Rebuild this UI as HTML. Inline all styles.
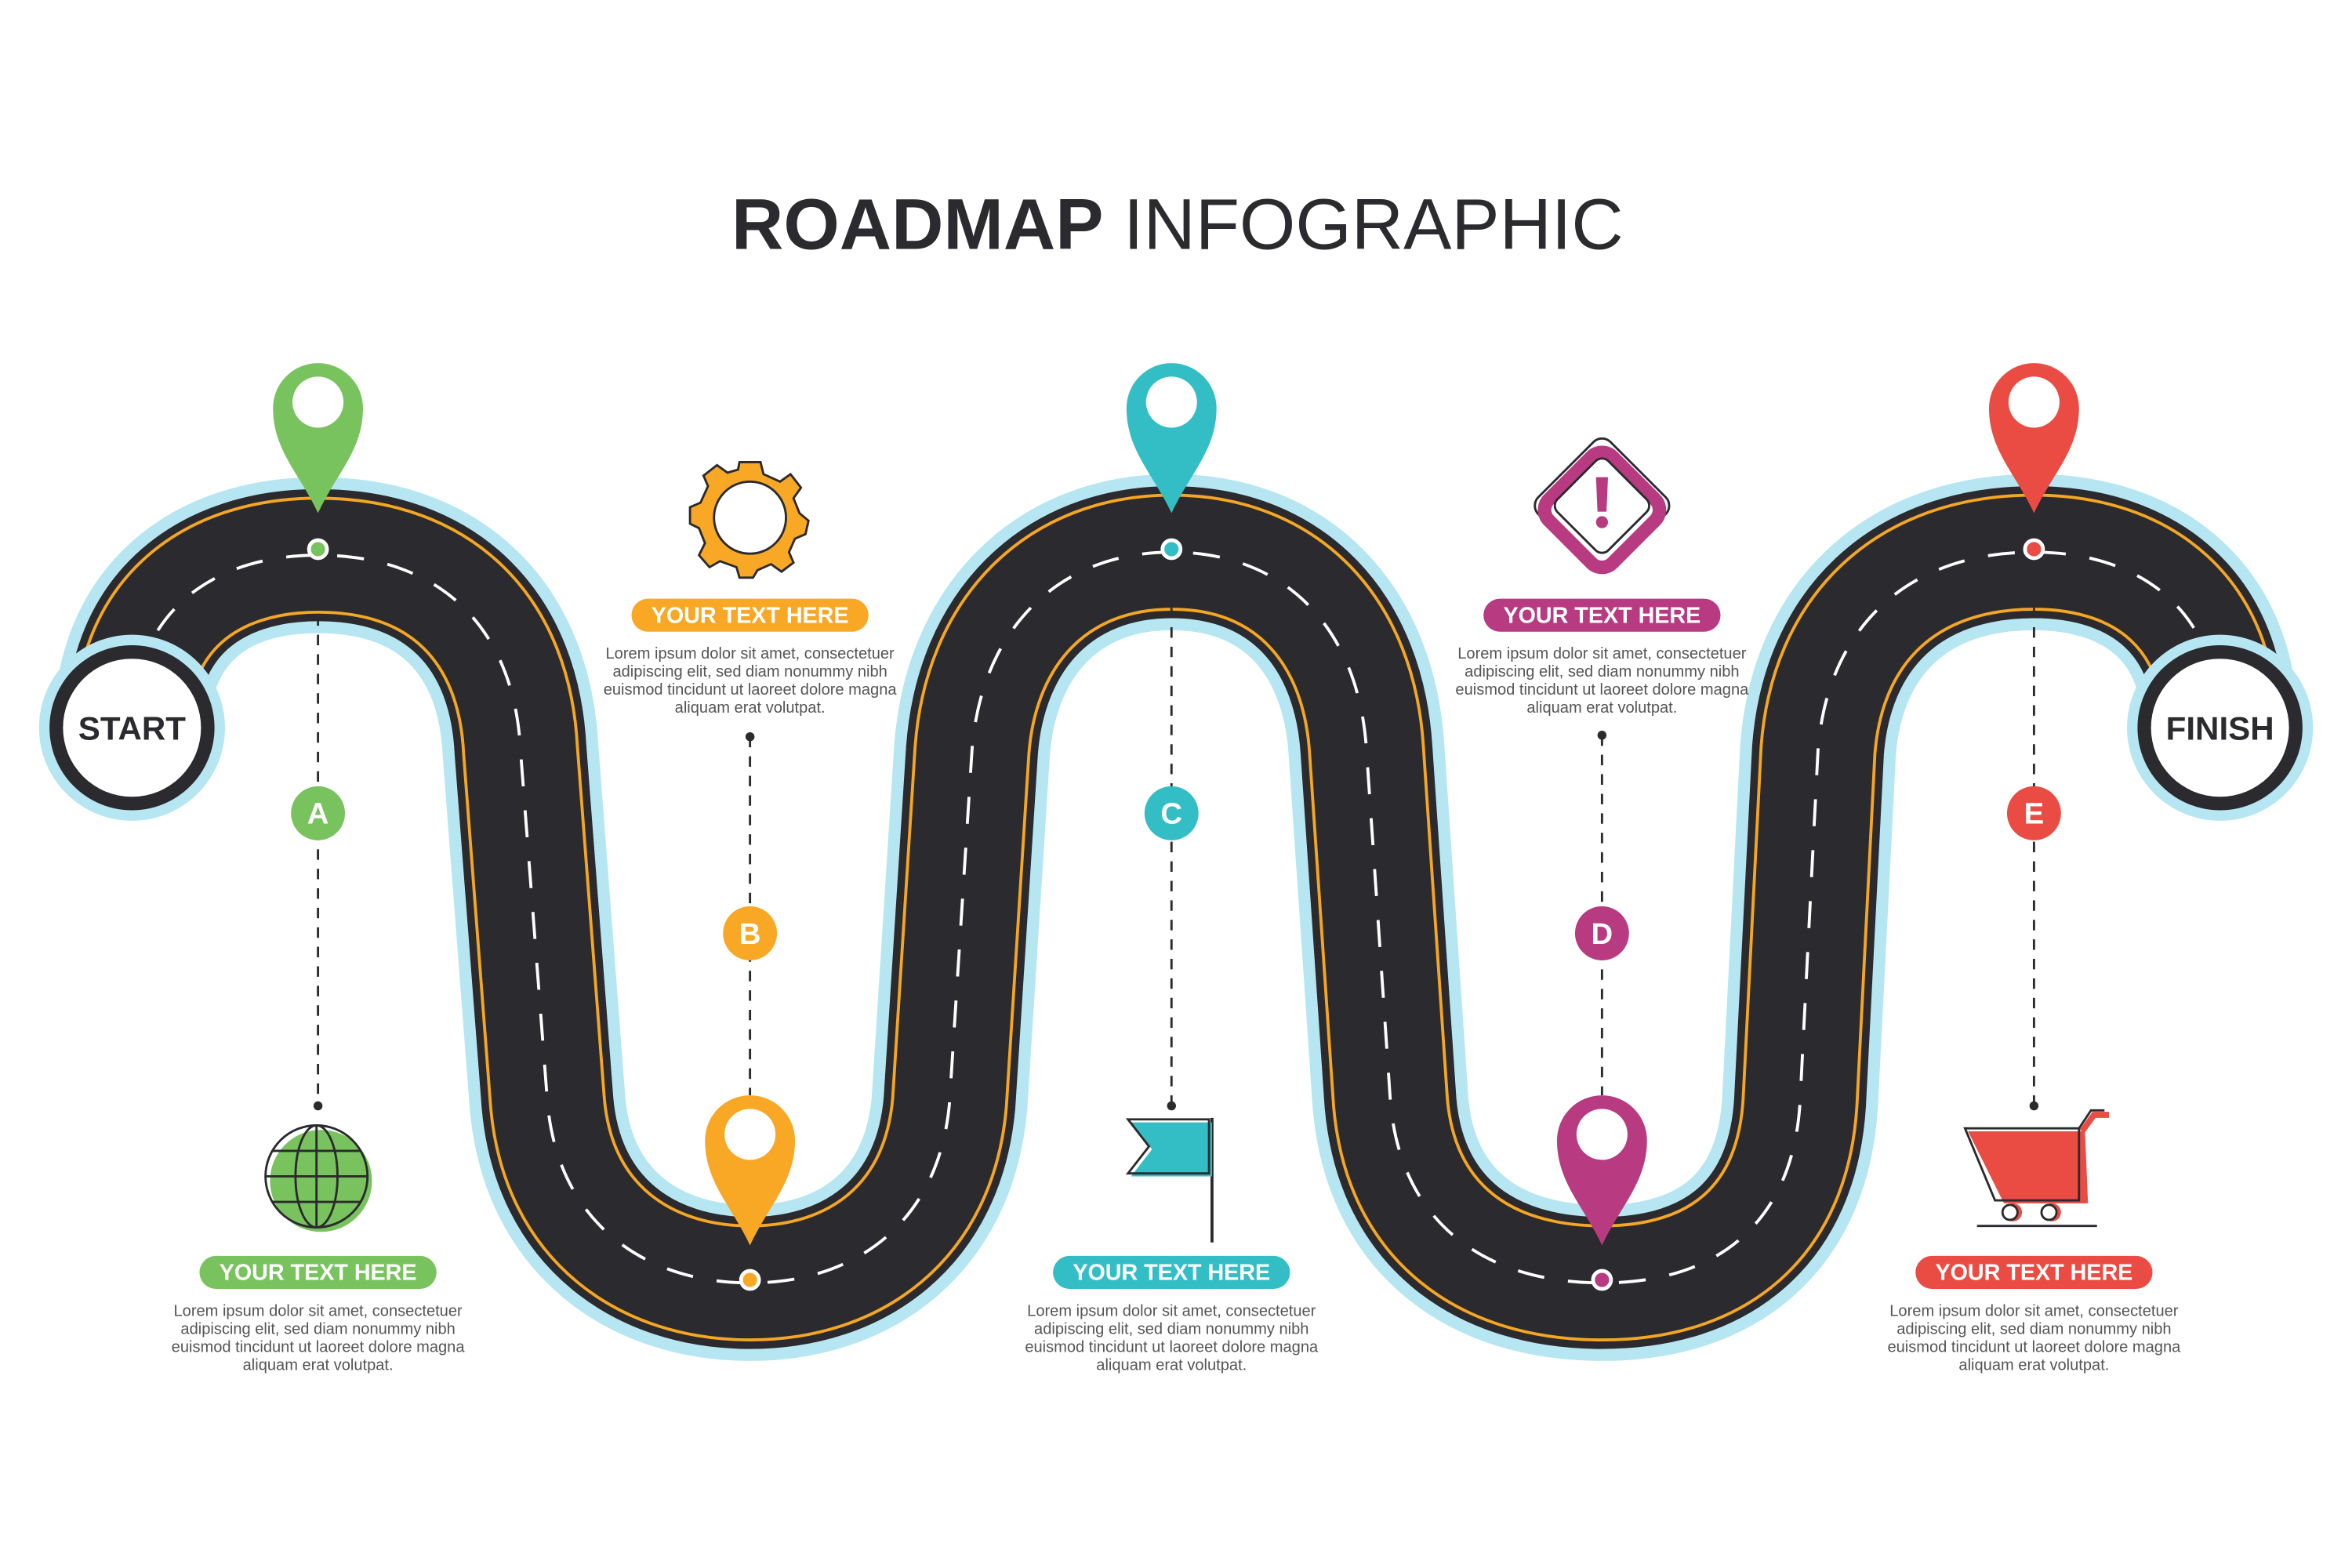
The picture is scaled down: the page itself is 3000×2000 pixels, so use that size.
<!DOCTYPE html>
<html><head><meta charset="utf-8"><style>
html,body{margin:0;padding:0;background:#fff;}
svg{display:block;}
text{font-family:"Liberation Sans",sans-serif;}
</style></head><body>
<svg width="3000" height="2000" viewBox="0 0 1568 1045" preserveAspectRatio="none" xmlns="http://www.w3.org/2000/svg">
<rect width="1568" height="1045" fill="#fff"/>
<text x="785" y="166" text-anchor="middle" font-size="48" fill="#2b2a2e"><tspan font-weight="bold">ROADMAP</tspan><tspan> INFOGRAPHIC</tspan></text>

<defs>
<path id="road" d="M88,485 C88,410 140,370 212,370 C295,370 343,420 347,500 L365,735 C372,815 430,855 500,855 C570,855 626,815 633,735 L648,500 C654,420 705,368 781,368 C858,368 906,420 911,500 L927,735 C934,815 990,855 1068,855 C1145,855 1195,815 1200,735 L1212,500 C1218,420 1270,368 1356,368 C1430,368 1480,410 1480,485"/>
</defs>
<use href="#road" fill="none" stroke="#b6e6f2" stroke-width="104"/>
<use href="#road" fill="none" stroke="#2b2a2e" stroke-width="88"/>
<use href="#road" fill="none" stroke="#f5a623" stroke-width="78"/>
<use href="#road" fill="none" stroke="#2b2a2e" stroke-width="74"/>
<use href="#road" fill="none" stroke="#fff" stroke-width="2" stroke-dasharray="18 16"/>

<circle cx="88" cy="485" r="62" fill="#b6e6f2"/>
<circle cx="88" cy="485" r="55" fill="#2b2a2e"/>
<circle cx="88" cy="485" r="46" fill="#fff"/>
<text x="88" y="493" text-anchor="middle" font-size="22" font-weight="bold" fill="#2b2a2e">START</text>
<circle cx="1480" cy="485" r="62" fill="#b6e6f2"/>
<circle cx="1480" cy="485" r="55" fill="#2b2a2e"/>
<circle cx="1480" cy="485" r="46" fill="#fff"/>
<text x="1480" y="493" text-anchor="middle" font-size="22" font-weight="bold" fill="#2b2a2e">FINISH</text>

<g stroke="#2b2a2e" stroke-width="1.5" stroke-dasharray="7 6" fill="none">
<line x1="212" y1="410" x2="212" y2="737"/>
<line x1="500" y1="491" x2="500" y2="730"/>
<line x1="781" y1="405" x2="781" y2="737"/>
<line x1="1068" y1="490" x2="1068" y2="730"/>
<line x1="1356" y1="405" x2="1356" y2="737"/>
</g>
<g fill="#2b2a2e">
<circle cx="212" cy="737" r="3"/><circle cx="500" cy="491" r="3"/><circle cx="781" cy="737" r="3"/><circle cx="1068" cy="490" r="3"/><circle cx="1356" cy="737" r="3"/>
</g>

<g stroke="#fff" stroke-width="2.5">
<circle cx="212" cy="366" r="6" fill="#79c35f"/>
<circle cx="500" cy="853" r="6" fill="#f9a825"/>
<circle cx="781" cy="366" r="6" fill="#33bec6"/>
<circle cx="1068" cy="853" r="6" fill="#b83a80"/>
<circle cx="1356" cy="366" r="6" fill="#ea4c43"/>
</g>

<g>
<path d="M212,342 C200,316 182,300 182,272 A30,30 0 1 1 242,272 C242,300 224,316 212,342 Z" fill="#79c35f"/>
<circle cx="212" cy="268" r="17" fill="#fff"/>
<path d="M500,830 C488,804 470,788 470,760 A30,30 0 1 1 530,760 C530,788 512,804 500,830 Z" fill="#f9a825"/>
<circle cx="500" cy="756" r="17" fill="#fff"/>
<path d="M781,342 C769,316 751,300 751,272 A30,30 0 1 1 811,272 C811,300 793,316 781,342 Z" fill="#33bec6"/>
<circle cx="781" cy="268" r="17" fill="#fff"/>
<path d="M1068,830 C1056,804 1038,788 1038,760 A30,30 0 1 1 1098,760 C1098,788 1080,804 1068,830 Z" fill="#b83a80"/>
<circle cx="1068" cy="756" r="17" fill="#fff"/>
<path d="M1356,342 C1344,316 1326,300 1326,272 A30,30 0 1 1 1386,272 C1386,300 1368,316 1356,342 Z" fill="#ea4c43"/>
<circle cx="1356" cy="268" r="17" fill="#fff"/>
</g>

<g font-size="20" font-weight="bold" fill="#fff" text-anchor="middle">
<circle cx="212" cy="542" r="18" fill="#79c35f"/><text x="212" y="549">A</text>
<circle cx="500" cy="622" r="18" fill="#f9a825"/><text x="500" y="629">B</text>
<circle cx="781" cy="542" r="18" fill="#33bec6"/><text x="781" y="549">C</text>
<circle cx="1068" cy="622" r="18" fill="#b83a80"/><text x="1068" y="629">D</text>
<circle cx="1356" cy="542" r="18" fill="#ea4c43"/><text x="1356" y="549">E</text>
</g>

<g>
<rect x="133" y="837" width="158" height="22" rx="11" fill="#79c35f"/>
<rect x="421" y="399" width="158" height="22" rx="11" fill="#f9a825"/>
<rect x="702" y="837" width="158" height="22" rx="11" fill="#33bec6"/>
<rect x="989" y="399" width="158" height="22" rx="11" fill="#b83a80"/>
<rect x="1277" y="837" width="158" height="22" rx="11" fill="#ea4c43"/>
</g>
<g font-size="15" font-weight="bold" fill="#fff" text-anchor="middle">
<text x="212" y="853">YOUR TEXT HERE</text>
<text x="500" y="415">YOUR TEXT HERE</text>
<text x="781" y="853">YOUR TEXT HERE</text>
<text x="1068" y="415">YOUR TEXT HERE</text>
<text x="1356" y="853">YOUR TEXT HERE</text>
</g>
<g font-size="10.5" fill="#555" text-anchor="middle">
<text x="212" y="877">Lorem ipsum dolor sit amet, consectetuer</text><text x="212" y="889">adipiscing elit, sed diam nonummy nibh</text><text x="212" y="901">euismod tincidunt ut laoreet dolore magna</text><text x="212" y="913">aliquam erat volutpat.</text>
<text x="500" y="439">Lorem ipsum dolor sit amet, consectetuer</text><text x="500" y="451">adipiscing elit, sed diam nonummy nibh</text><text x="500" y="463">euismod tincidunt ut laoreet dolore magna</text><text x="500" y="475">aliquam erat volutpat.</text>
<text x="781" y="877">Lorem ipsum dolor sit amet, consectetuer</text><text x="781" y="889">adipiscing elit, sed diam nonummy nibh</text><text x="781" y="901">euismod tincidunt ut laoreet dolore magna</text><text x="781" y="913">aliquam erat volutpat.</text>
<text x="1068" y="439">Lorem ipsum dolor sit amet, consectetuer</text><text x="1068" y="451">adipiscing elit, sed diam nonummy nibh</text><text x="1068" y="463">euismod tincidunt ut laoreet dolore magna</text><text x="1068" y="475">aliquam erat volutpat.</text>
<text x="1356" y="877">Lorem ipsum dolor sit amet, consectetuer</text><text x="1356" y="889">adipiscing elit, sed diam nonummy nibh</text><text x="1356" y="901">euismod tincidunt ut laoreet dolore magna</text><text x="1356" y="913">aliquam erat volutpat.</text>
</g>

<g>
<circle cx="214" cy="787" r="34" fill="#79c35f"/>
<g fill="none" stroke="#2b2a2e" stroke-width="1.5">
<circle cx="211" cy="784" r="34"/>
<ellipse cx="211" cy="784" rx="14" ry="34"/>
<line x1="211" y1="750" x2="211" y2="818"/>
<line x1="177" y1="784" x2="245" y2="784"/>
<line x1="181" y1="767" x2="241" y2="767"/>
<line x1="181" y1="801" x2="241" y2="801"/>
</g>
</g>

<g transform="translate(500,345)">
<g fill="#f9a825" stroke="#2b2a2e" stroke-width="1.5">
<path d="M-7,-37 L7,-37 L9,-29 L20,-24 L27,-29 L34,-20 L29,-13 L33,-3 L39,2 L37,11 L30,14 L26,23 L29,30 L21,36 L14,31 L5,35 L2,40 L-7,40 L-9,33 L-20,29 L-27,33 L-34,25 L-30,17 L-34,7 L-40,4 L-40,-7 L-33,-10 L-28,-21 L-31,-28 L-22,-35 L-15,-30 L-8,-32 Z"/>
<circle cx="0" cy="0" r="24" fill="#fff"/>
</g>
</g>

<g>
<line x1="808" y1="745" x2="808" y2="828" stroke="#2b2a2e" stroke-width="2"/>
<path d="M754,748 L808,748 L808,784 L754,784 L768,766 Z" fill="#33bec6"/>
<path d="M752,746 L806,746 L806,782 L752,782 L766,764 Z" fill="none" stroke="#2b2a2e" stroke-width="1.5"/>
</g>

<g transform="translate(1068,337)">
<rect x="-34" y="-34" width="68" height="68" rx="8" transform="rotate(45)" fill="none" stroke="#2b2a2e" stroke-width="1.5"/>
<rect x="-28" y="-28" width="60" height="60" rx="10" transform="rotate(45)" fill="none" stroke="#b83a80" stroke-width="9"/>
<rect x="-24" y="-24" width="48" height="48" rx="6" transform="rotate(45)" fill="none" stroke="#2b2a2e" stroke-width="1.5"/>
<path d="M-4,-19 L4,-19 L3,4 L-3,4 Z" fill="#b83a80"/>
<circle cx="0" cy="11" r="4" fill="#b83a80"/>
</g>

<g>
<path d="M1312,754 L1390,754 L1392,802 L1336,802 Z" fill="#ea4c43"/>
<path d="M1388,754 L1396,743 L1406,743" fill="none" stroke="#ea4c43" stroke-width="4"/>
<path d="M1310,752 L1386,752 L1386,800 L1330,800 Z M1386,752 L1394,740 L1403,740" fill="none" stroke="#2b2a2e" stroke-width="1.5"/>
<circle cx="1342" cy="808" r="6" fill="#ea4c43"/><circle cx="1368" cy="808" r="6" fill="#ea4c43"/>
<circle cx="1340" cy="808" r="5" fill="#fff" stroke="#2b2a2e" stroke-width="1.5"/><circle cx="1366" cy="808" r="5" fill="#fff" stroke="#2b2a2e" stroke-width="1.5"/>
<line x1="1318" y1="817" x2="1398" y2="817" stroke="#2b2a2e" stroke-width="1.5"/>
</g>
</svg>
</body></html>
